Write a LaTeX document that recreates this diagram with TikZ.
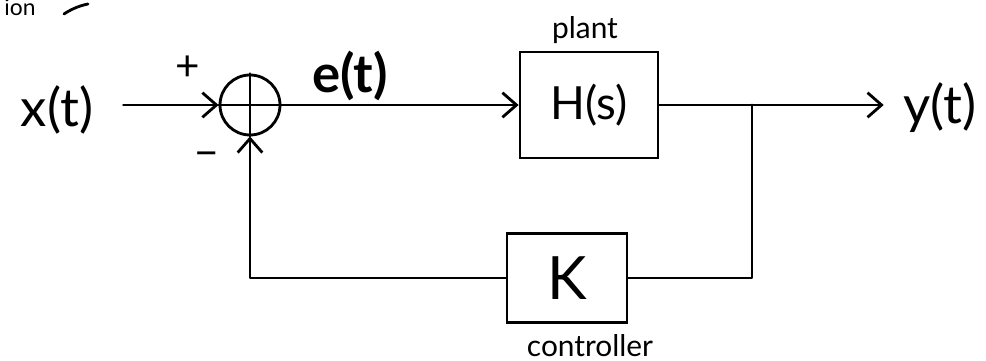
\documentclass[tikz,border=0pt]{standalone}
\usepackage{fontspec}
\setmainfont{Lato}
\usetikzlibrary{arrows.meta}
\tikzset{
  wire/.style={line width=1.6pt, line cap=round, line join=round},
  arr/.style={wire, -{Straight Barb[length=8pt,width=14pt,line width=1.6pt]}},
  blockbox/.style={draw, line width=1.6pt, minimum width=2.76cm, minimum height=2.12cm, inner sep=0pt},
  kbox/.style={draw, line width=1.6pt, minimum width=2.4cm, minimum height=1.78cm, inner sep=0pt},
  sumnode/.style={draw, circle, line width=1.6pt, minimum size=1.2cm, inner sep=0pt},
  sig/.style={font=\fontsize{30}{34}\selectfont, inner sep=1pt},
  smalllbl/.style={font=\fontsize{17}{20}\selectfont, inner sep=1pt}
}
\begin{document}
\begin{tikzpicture}[x=0.02cm,y=-0.02cm]
\useasboundingbox (0,0) rectangle (986,361);
\node[font=\fontsize{13}{15}\selectfont, inner sep=0pt, anchor=base west] (frag) at (4,16) {ion};
\draw[wire] (64,14) .. controls (70,10) and (78,6) .. (88,4);

\node[sig] (xt) at (57,110) {x(t)};
\node[sumnode] (sum) at (250,105) {};
\draw[wire] (sum.north) -- (sum.south);
\draw[wire] (sum.west) -- (sum.east);
\node[sig, font=\fontsize{24}{28}\selectfont] (plus) at (188,68) {+};
\node[sig, font=\fontsize{24}{28}\selectfont] (minus) at (207,160) {−};
\node[sig, font=\fontsize{30}{34}\selectfont\bfseries] (et) at (350,76) {e(t)};
\node[blockbox] (H) at (589,105) {\fontsize{26}{30}\selectfont H(s)};
\node[smalllbl] (plant) at (585,30) {plant};
\node[sig] (yt) at (940,108) {y(t)};
\node[kbox] (K) at (567,278) {\fontsize{34}{38}\selectfont K};
\node[smalllbl] (ctrl) at (590,346) {controller};
\coordinate (jn) at (752,105);

\draw[arr, shorten <=16pt] (sum.west -| xt.east) -- (sum.west);
\draw[arr] (sum) -- (H);
\draw[arr, shorten >=10pt] (H.east) -- (H.east -| yt.west);
\draw[wire] (jn) |- (K.east);
\draw[arr] (K.west) -| (sum.south);
\end{tikzpicture}
\end{document}
